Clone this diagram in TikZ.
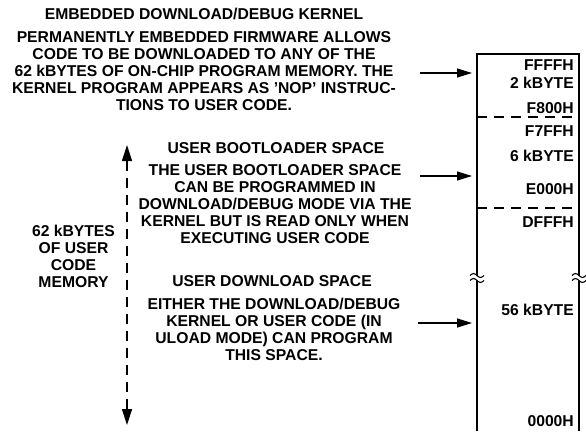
\documentclass[tikz,border=0pt]{standalone}
\usepackage{fontspec}
\setmainfont{Liberation Sans}
\usetikzlibrary{arrows.meta}
\tikzset{
  txt/.style={font=\bfseries\fontsize{15.7}{17}\selectfont, inner sep=0pt, align=center, anchor=north, text=black},
  lbl/.style={font=\bfseries\fontsize{15.7}{17}\selectfont, inner sep=0pt, anchor=north east, text=black},
  boxline/.style={line width=1.2pt, black},
  sepline/.style={line width=1.4pt, black, dash pattern=on 10pt off 7pt},
  pointer/.style={line width=1.2pt, black, -{Triangle[length=15pt,width=9pt]}},
  span/.style={line width=1.4pt, black, dash pattern=on 10pt off 7pt, {Triangle[length=16pt,width=10pt]}-{Triangle[length=16pt,width=10pt]}},
  wave/.style={line width=1.1pt, black}
}
\begin{document}
\begin{tikzpicture}[x=1pt,y=-1pt]
\useasboundingbox (0,0) rectangle (586,431);
% memory box
\coordinate (tl) at (477,54);
\coordinate (tr) at (579,54);
\coordinate (bl) at (477,431);
\coordinate (br) at (579,431);
\coordinate (lb1) at (477,275.5);
\coordinate (lb2) at (477,280.5);
\coordinate (rb1) at (579,275.5);
\coordinate (rb2) at (579,280.5);
\draw[boxline] (lb1) -- (tl) -- (tr) -- (rb1);
\draw[boxline] (lb2) -- (bl);
\draw[boxline] (rb2) -- (br);
\draw[wave] (470,275.5) sin (473.5,273.5) cos (477,275.5) sin (480.5,277.5) cos (484,275.5);
\draw[wave] (470,280.5) sin (473.5,278.5) cos (477,280.5) sin (480.5,282.5) cos (484,280.5);
\draw[wave] (572,275.5) sin (575.5,273.5) cos (579,275.5) sin (582.5,277.5) cos (586,275.5);
\draw[wave] (572,280.5) sin (575.5,278.5) cos (579,280.5) sin (582.5,282.5) cos (586,280.5);
% separators
\coordinate (s1l) at (477,117);
\coordinate (s1r) at (579,117);
\coordinate (s2l) at (477,208);
\coordinate (s2r) at (579,208);
\draw[sepline] (s1l) -- (s1r);
\draw[sepline] (s2l) -- (s2r);
% labels in box
\node[lbl] (ffff) at (574,59) {FFFFH};
\node[lbl] (k2) at (574,77) {2 kBYTE};
\node[lbl] (f800) at (574,102) {F800H};
\node[lbl] (f7ff) at (574,125) {F7FFH};
\node[lbl] (k6) at (574,150) {6 kBYTE};
\node[lbl] (e000) at (574,183) {E000H};
\node[lbl] (dfff) at (574,216) {DFFFH};
\node[lbl] (k56) at (574,304) {56 kBYTE};
\node[lbl] (zero) at (574,415) {0000H};
% text blocks
\node[txt] (title) at (204,8) {EMBEDDED DOWNLOAD/DEBUG KERNEL};
\node[txt] (kern) at (204,31) {PERMANENTLY EMBEDDED FIRMWARE ALLOWS\\CODE TO BE DOWNLOADED TO ANY OF THE\\62 kBYTES OF ON-CHIP PROGRAM MEMORY. THE\\KERNEL PROGRAM APPEARS AS {\char"0027}NOP{\char"0027} INSTRUC-\\TIONS TO USER CODE.};
\node[txt] (boothead) at (276,142) {USER BOOTLOADER SPACE};
\node[txt] (boot) at (275,164) {THE USER BOOTLOADER SPACE\\CAN BE PROGRAMMED IN\\DOWNLOAD/DEBUG MODE VIA THE\\KERNEL BUT IS READ ONLY WHEN\\EXECUTING USER CODE};
\node[txt] (user) at (73.5,225) {62 kBYTES\\OF USER\\CODE\\MEMORY};
\node[txt] (dlhead) at (272,275) {USER DOWNLOAD SPACE};
\node[txt] (dl) at (274,298) {EITHER THE DOWNLOAD/DEBUG\\KERNEL OR USER CODE (IN\\ULOAD MODE) CAN PROGRAM\\THIS SPACE.};
% pointers
\coordinate (p1s) at (420,73);
\coordinate (p1e) at (472,73);
\coordinate (p2s) at (420,176);
\coordinate (p2e) at (472,176);
\coordinate (p3s) at (418,323);
\coordinate (p3e) at (472,323);
\draw[pointer] (p1s) -- (p1e);
\draw[pointer] (p2s) -- (p2e);
\draw[pointer] (p3s) -- (p3e);
% span arrow
\coordinate (vt) at (127,145);
\coordinate (vb) at (127,425);
\draw[span] (vt) -- (vb);
\end{tikzpicture}
\end{document}
